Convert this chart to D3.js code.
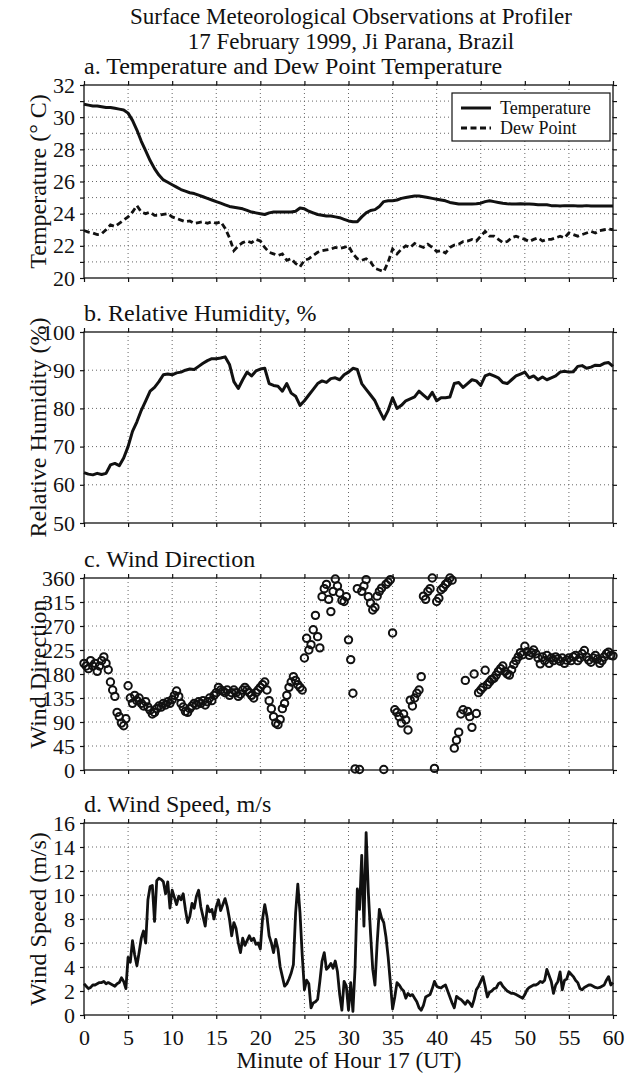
<!DOCTYPE html>
<html>
<head>
<meta charset="utf-8">
<script src="https://cdn.jsdelivr.net/npm/d3@7"></script>
<style>
  body { margin: 0; background: #fff; }
  svg text { font-family: "Liberation Serif", "Times New Roman", serif; fill: #111; }
</style>
</head>
<body>
<div id="chart"></div>
<script>
// samples every 0.5 min (T, Td, RH) and every 0.25 min (wind)
var slowStep = 0.5;
var windStep = 0.25;

var temperature = [
  30.8, 30.75, 30.7, 30.7, 30.65, 30.6, 30.6, 30.55, 30.5, 30.45,
  30.25, 29.8, 29.2, 28.5, 27.9, 27.3, 26.8, 26.4, 26.1, 25.95,
  25.8, 25.65, 25.5, 25.4, 25.3, 25.25, 25.15, 25.05, 24.95, 24.85,
  24.75, 24.65, 24.55, 24.45, 24.4, 24.35, 24.3, 24.2, 24.1, 24.05,
  24.0, 23.95, 24.05, 24.1, 24.1, 24.1, 24.1, 24.1, 24.15, 24.35,
  24.3, 24.15, 24.05, 23.95, 23.9, 23.85, 23.85, 23.8, 23.75, 23.65,
  23.55, 23.5, 23.5, 23.8, 24.05, 24.2, 24.25, 24.45, 24.75, 24.8,
  24.8, 24.85, 24.95, 25.0, 25.05, 25.1, 25.1, 25.05, 25.0, 24.95,
  24.9, 24.85, 24.8, 24.7, 24.65, 24.6, 24.6, 24.6, 24.6, 24.62,
  24.65, 24.75, 24.8, 24.75, 24.7, 24.65, 24.62, 24.6, 24.6, 24.62,
  24.6, 24.6, 24.58, 24.55, 24.55, 24.55, 24.5, 24.5, 24.48, 24.5,
  24.5, 24.5, 24.48, 24.48, 24.5, 24.48, 24.47, 24.47, 24.47, 24.47,
  24.47
];

var dewPoint = [
  22.95, 22.85, 22.8, 22.7, 22.75, 23.0, 23.3, 23.2, 23.4, 23.6,
  23.8, 24.1, 24.5, 24.1, 24.0, 24.1, 23.9, 23.9, 23.95, 24.0,
  23.8, 23.7, 23.6, 23.5, 23.55, 23.4, 23.45, 23.5, 23.4, 23.5,
  23.4, 23.5, 23.1, 22.5, 21.7, 22.0, 22.2, 22.3, 22.2, 22.4,
  22.3, 21.9, 21.6, 21.5, 21.4, 21.5, 21.1, 21.2, 20.9, 20.7,
  21.1, 21.2, 21.4, 21.6, 21.7, 21.75, 21.8, 21.9, 21.85, 21.9,
  22.0, 21.5, 21.2, 21.1, 21.2, 21.0, 20.6, 20.5, 20.4, 21.0,
  21.8, 21.5, 21.8, 22.0, 21.9, 22.15, 22.0, 21.9, 22.1, 21.9,
  21.65, 21.7, 21.55, 21.9, 22.05, 22.1, 22.27, 22.3, 22.4, 22.3,
  22.6, 22.9, 22.6, 22.6, 22.4, 22.2, 22.27, 22.5, 22.6, 22.5,
  22.4, 22.27, 22.4, 22.5, 22.3, 22.4, 22.4, 22.5, 22.6, 22.5,
  22.8, 22.7, 22.6, 22.7, 22.8, 22.9, 22.8, 22.95, 23.0, 23.05,
  23.0
];

var relHumidity = [
  63.2, 62.8, 62.6, 63.0, 62.7, 63.0, 65.2, 65.6, 65.0, 67.0,
  70.0, 74.0, 76.5, 79.5, 82.0, 84.5, 85.5, 87.0, 88.8, 89.0,
  88.8, 89.3, 89.5, 90.0, 90.3, 90.2, 91.0, 91.8, 92.5, 93.0,
  93.0, 93.2, 93.5, 91.5, 87.0, 85.2, 87.5, 89.5, 88.5, 89.8,
  90.3, 90.5, 86.5, 86.0, 85.8, 84.5, 86.5, 84.0, 83.2, 80.8,
  82.0, 83.5, 85.0, 86.5, 87.2, 86.8, 87.8, 88.0, 87.5, 88.8,
  89.5, 90.5, 90.2, 86.5, 85.0, 83.5, 82.0, 79.5, 77.2, 79.5,
  82.8, 80.0, 80.8, 82.0, 82.5, 83.0, 84.5, 83.5, 82.5, 84.2,
  82.0, 82.8, 82.8, 83.0, 86.5, 86.8, 85.5, 86.5, 87.5, 87.2,
  86.0, 88.5, 89.0, 88.5, 88.0, 86.8, 86.5, 87.5, 88.5, 89.0,
  89.5, 88.0, 88.5, 87.5, 88.2, 87.5, 88.0, 88.5, 89.5, 89.7,
  89.5, 89.6, 91.0, 91.2, 90.5, 90.8, 91.3, 91.2, 91.8, 92.0,
  91.0
];

var windDirection = [
  200, 195, 190, 205, 195, 200, 185, 195, 205, 212, 200, 188, 165, 150, 138, 108, 100, 88, 83, 96,
  158, 135, 125, 140, 130, 135, 125, 120, 128, 118, 112, 105, 108, 115, 120, 118, 125, 122, 128, 125,
  132, 140, 148, 138, 125, 118, 110, 108, 115, 120, 125, 122, 128, 125, 130, 122, 128, 135, 130, 140,
  145, 155, 150, 148, 145, 150, 140, 145, 150, 145, 138, 142, 150, 155, 150, 145, 140, 135, 145, 150,
  155, 160, 165, 150, 130, 115, 100, 88, 85, 95, 115, 125, 140, 155, 165, 175, 168, 160, 155, 150,
  210, 247, 225, 235, 263, 290, 250, 229, 325, 340, 348, 320, 297, 335, 358, 345, 332, 318, 316, 325,
  244, 207, 144, 2, 340, 1, 335, 345, 357, 325, 313, 300, 305, 326, 335, 341, 1, 348, 352, 357,
  257, 113, 108, 100, 88, 105, 94, 75, 131, 120, 135, 144, 150, 175, 326, 320, 335, 340, 360, 3,
  316, 322, 338, 342, 348, 352, 360, 356, 41, 56, 71, 105, 113, 168, 110, 100, 80, 180, 106, 145,
  150, 155, 187, 160, 165, 170, 172, 178, 185, 190, 195, 185, 180, 178, 188, 198, 205, 212, 220, 216,
  232, 222, 215, 220, 225, 218, 210, 199, 212, 205, 215, 200, 210, 205, 212, 208, 204, 210, 200, 206,
  210, 205, 212, 215, 205, 210, 218, 224, 212, 206, 202, 210, 215, 208, 200, 205, 212, 218, 221, 215,
  214
];

var windSpeed = [
  2.6, 2.4, 2.2, 2.3, 2.5, 2.5, 2.6, 2.7, 2.7, 2.8, 2.6, 2.7, 2.6, 2.5, 2.4, 2.6, 2.7, 3.1, 2.8, 2.2,
  4.8, 4.4, 6.2, 5.0, 4.1, 5.2, 6.4, 7.0, 6.0, 9.6, 10.7, 10.8, 7.8, 11.2, 11.4, 11.3, 11.1, 10.1, 11.1, 8.9,
  10.4, 9.8, 9.2, 9.9, 9.6, 10.1, 8.8, 7.7, 8.2, 9.3, 8.9, 9.9, 10.4, 9.0, 8.2, 7.4, 9.1, 8.6, 8.8, 8.0,
  9.0, 9.6, 8.7, 9.2, 9.7, 9.0, 8.0, 6.6, 7.7, 7.2, 6.0, 5.2, 6.4, 5.8, 6.2, 6.6, 6.2, 6.4, 5.9, 6.0,
  5.5, 8.0, 9.2, 8.2, 6.6, 6.0, 5.2, 6.3, 5.5, 4.0, 3.2, 2.4, 2.6, 3.0, 3.5, 4.2, 8.5, 10.9, 8.5, 5.0,
  2.1, 2.9, 2.6, 0.6, 1.0, 1.1, 1.3, 2.8, 4.5, 5.2, 3.8, 4.0, 4.3, 3.9, 4.5, 3.6, 1.7, 0.4, 2.8, 2.4,
  0.4, 2.7, 0.3, 4.0, 10.5, 8.8, 13.3, 7.4, 15.2, 10.2, 6.8, 3.8, 2.5, 6.0, 8.8, 8.1, 7.7, 6.5, 4.8, 2.7,
  0.5, 1.5, 2.7, 2.5, 2.2, 2.0, 1.4, 1.8, 1.6, 1.7, 1.4, 1.1, 0.6, 0.4, 0.8, 1.5, 1.6, 1.7, 2.2, 2.8,
  2.4, 2.3, 2.25, 2.4, 2.5, 2.0, 1.5, 1.0, 0.6, 1.55, 1.4, 1.3, 1.1, 0.9, 1.2, 1.0, 0.7, 1.3, 2.1, 2.4,
  2.8, 3.2, 2.4, 1.5, 1.9, 2.0, 2.2, 2.25, 2.6, 2.7, 2.4, 2.2, 2.0, 1.9, 1.8, 1.8, 1.7, 1.6, 1.5, 1.4,
  1.7, 2.1, 2.3, 2.4, 2.5, 2.5, 2.6, 2.8, 2.7, 2.9, 3.8, 3.3, 2.8, 1.8, 2.5, 2.8, 3.6, 2.1, 2.9, 3.0,
  3.6, 3.4, 3.2, 2.9, 2.7, 2.2, 2.1, 2.3, 2.4, 2.5, 2.5, 2.4, 2.3, 2.25, 2.3, 2.4, 2.5, 2.9, 3.2, 2.5,
  2.7
];

var minuteTicks = [0, 5, 10, 15, 20, 25, 30, 35, 40, 45, 50, 55, 60];
var tempGrid = [20, 21, 22, 23, 24, 25, 26, 27, 28, 29, 30, 31, 32];
var tempLabels = [20, 22, 24, 26, 28, 30, 32];
var rhTicks = [50, 60, 70, 80, 90, 100];
var dirTicks = [0, 45, 90, 135, 180, 225, 270, 315, 360];
var speedTicks = [0, 2, 4, 6, 8, 10, 12, 14, 16];

var width = 629, height = 1078;
var plotLeft = 84, plotRight = 613;

var svg = d3.select("#chart").append("svg")
    .attr("width", width)
    .attr("height", height);

var x = d3.scaleLinear().domain([0, 60]).range([plotLeft, plotRight]);

function styleAxis(g, fontSize) {
    g.attr("font-family", null).attr("font-size", null);
    g.select(".domain").remove();
    g.selectAll(".tick line").attr("stroke", "#111").attr("stroke-width", 1.2);
    g.selectAll(".tick text").style("font-size", fontSize + "px").attr("fill", "#111");
}

function drawPanel(p) {
    var y = d3.scaleLinear().domain(p.domain).range([p.bottom, p.top]);
    var g = svg.append("g");

    // dotted grid
    g.selectAll(".vgrid")
        .data(minuteTicks.slice(1, -1))
        .enter().append("line")
        .attr("x1", d => x(d)).attr("x2", d => x(d))
        .attr("y1", p.top).attr("y2", p.bottom)
        .attr("stroke", "#666").attr("stroke-width", 1)
        .attr("stroke-dasharray", "1,3");
    g.selectAll(".hgrid")
        .data(p.grid.slice(1, -1))
        .enter().append("line")
        .attr("x1", plotLeft).attr("x2", plotRight)
        .attr("y1", d => y(d)).attr("y2", d => y(d))
        .attr("stroke", "#666").attr("stroke-width", 1)
        .attr("stroke-dasharray", "1,3");

    g.append("g")
        .attr("transform", "translate(" + plotLeft + ",0)")
        .call(d3.axisLeft(y).tickValues(p.grid).tickSize(4).tickPadding(5)
            .tickFormat(d => p.labels.indexOf(d) >= 0 ? d : ""))
        .call(a => styleAxis(a, 22));
    g.append("g")
        .attr("transform", "translate(" + plotRight + ",0)")
        .call(d3.axisRight(y).tickValues(p.grid).tickSize(4).tickFormat(""))
        .call(a => styleAxis(a, 22));
    g.append("g")
        .attr("transform", "translate(0," + p.top + ")")
        .call(d3.axisTop(x).tickValues(minuteTicks).tickSize(4).tickFormat(""))
        .call(a => styleAxis(a, 22));
    g.append("g")
        .attr("transform", "translate(0," + p.bottom + ")")
        .call(d3.axisBottom(x).tickValues(minuteTicks).tickSize(4).tickPadding(10)
            .tickFormat(p.xLabels ? d3.format("d") : ""))
        .call(a => styleAxis(a, 22));

    g.append("rect")
        .attr("x", plotLeft).attr("y", p.top)
        .attr("width", plotRight - plotLeft).attr("height", p.bottom - p.top)
        .attr("fill", "none").attr("stroke", "#111").attr("stroke-width", 1.3);

    g.append("text")
        .attr("x", plotLeft).attr("y", p.top - 11)
        .style("font-size", "24px")
        .text(p.title);

    g.append("text")
        .attr("transform", "translate(46," + ((p.top + p.bottom) / 2) + ") rotate(-90)")
        .attr("text-anchor", "middle")
        .style("font-size", "24px")
        .text(p.yLabel);

    return { g: g, y: y };
}

function seriesLine(values, step, y) {
    return d3.line()
        .x((d, i) => x(i * step))
        .y(d => y(d))(values);
}

svg.append("text").attr("x", 351).attr("y", 23.5).attr("text-anchor", "middle")
    .style("font-size", "23px").text("Surface Meteorological Observations at Profiler");
svg.append("text").attr("x", 351).attr("y", 49).attr("text-anchor", "middle")
    .style("font-size", "23px").text("17 February 1999, Ji Parana, Brazil");

// a. temperature and dew point
var pa = drawPanel({
    top: 85, bottom: 278, domain: [20, 32], grid: tempGrid, labels: tempLabels,
    title: "a. Temperature and Dew Point Temperature", yLabel: "Temperature (\u00b0 C)"
});
pa.g.append("path")
    .attr("d", seriesLine(temperature, slowStep, pa.y))
    .attr("fill", "none").attr("stroke", "#111").attr("stroke-width", 3)
    .attr("stroke-linejoin", "round");
pa.g.append("path")
    .attr("d", seriesLine(dewPoint, slowStep, pa.y))
    .attr("fill", "none").attr("stroke", "#111").attr("stroke-width", 2.8)
    .attr("stroke-dasharray", "6,3.5");

var legend = pa.g.append("g");
legend.append("rect")
    .attr("x", 452).attr("y", 93).attr("width", 158).attr("height", 48)
    .attr("fill", "#fff").attr("stroke", "#111").attr("stroke-width", 1.2);
legend.append("line")
    .attr("x1", 461).attr("x2", 491).attr("y1", 108).attr("y2", 108)
    .attr("stroke", "#111").attr("stroke-width", 3);
legend.append("line")
    .attr("x1", 461).attr("x2", 491).attr("y1", 128).attr("y2", 128)
    .attr("stroke", "#111").attr("stroke-width", 2.8).attr("stroke-dasharray", "6,3.5");
legend.append("text").attr("x", 500).attr("y", 114).style("font-size", "18px").text("Temperature");
legend.append("text").attr("x", 500).attr("y", 134).style("font-size", "18px").text("Dew Point");

// b. relative humidity
var pb = drawPanel({
    top: 332, bottom: 523, domain: [50, 100], grid: rhTicks, labels: rhTicks,
    title: "b. Relative Humidity, %", yLabel: "Relative Humidity (%)"
});
pb.g.append("path")
    .attr("d", seriesLine(relHumidity, slowStep, pb.y))
    .attr("fill", "none").attr("stroke", "#111").attr("stroke-width", 3)
    .attr("stroke-linejoin", "round");

// c. wind direction
var pc = drawPanel({
    top: 578, bottom: 770, domain: [0, 360], grid: dirTicks, labels: dirTicks,
    title: "c. Wind Direction", yLabel: "Wind Direction"
});
pc.g.selectAll(".dir")
    .data(windDirection)
    .enter().append("circle")
    .attr("cx", (d, i) => x(i * windStep))
    .attr("cy", d => pc.y(d))
    .attr("r", 3.7)
    .attr("fill", "none").attr("stroke", "#111").attr("stroke-width", 2);

// d. wind speed
var pd = drawPanel({
    top: 823, bottom: 1015, domain: [0, 16], grid: speedTicks, labels: speedTicks,
    title: "d. Wind Speed, m/s", yLabel: "Wind Speed (m/s)", xLabels: true
});
pd.g.append("path")
    .attr("d", seriesLine(windSpeed, windStep, pd.y))
    .attr("fill", "none").attr("stroke", "#111").attr("stroke-width", 2.8)
    .attr("stroke-linejoin", "round");

svg.append("text").attr("x", 349).attr("y", 1068).attr("text-anchor", "middle")
    .style("font-size", "23px").text("Minute of Hour 17 (UT)");
</script>
</body>
</html>
